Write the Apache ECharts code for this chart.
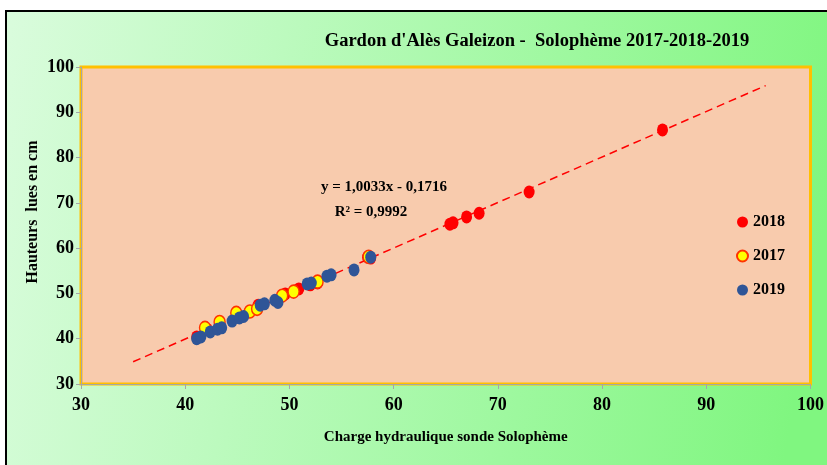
<!DOCTYPE html>
<html>
<head>
<meta charset="utf-8">
<script src="https://cdn.jsdelivr.net/npm/echarts@6/dist/echarts.min.js"></script>
<style>html,body{margin:0;padding:0;background:#fff;}#c{width:827px;height:465px;}</style>
</head>
<body>
<div id="c"></div>
<script>
var titleText = "Gardon d'Alès Galeizon -  Solophème 2017-2018-2019";
var xAxisName = "Charge hydraulique sonde Solophème";
var yAxisName = "Hauteurs  lues en cm";
var equationLines = ["y = 1,0033x - 0,1716", "R² = 0,9992"];
var seriesNames = ["2018", "2017", "2019"];

var x2018 = [41.1, 42.1, 47.0, 49.6, 50.9, 52.0, 52.7, 57.5, 57.8, 65.4, 65.7, 67.0, 68.2, 73.0, 85.8];
var y2018 = [40.4, 42.1, 47.4, 49.9, 51.0, 51.9, 52.3, 58.0, 57.8, 65.3, 65.6, 66.9, 67.7, 72.4, 86.1];

var x2017 = [41.9, 43.3, 44.9, 46.2, 46.9, 49.3, 50.4, 52.7, 57.6];
var y2017 = [42.4, 43.7, 45.7, 46.0, 46.6, 49.5, 50.4, 52.6, 58.1];

var x2019 = [41.1, 41.5, 42.4, 43.1, 43.5, 44.5, 45.2, 45.6, 47.2, 47.6, 48.6, 48.9, 51.7, 52.1, 53.6, 54.0, 56.2, 57.8];
var y2019 = [40.0, 40.4, 41.5, 42.1, 42.4, 43.9, 44.6, 44.9, 47.4, 47.7, 48.5, 48.0, 52.1, 52.3, 53.8, 54.1, 55.2, 58.0];

var trendX = [35, 95.7];
var trendY = [34.9, 95.9];

var xTicks = [30, 100, 10];
var yTicks = [30, 100, 10];

function pairs(xs, ys){ return xs.map(function(v,i){ return [v, ys[i]]; }); }

var font = "'Liberation Serif', 'Times New Roman', serif";
var chart = echarts.init(document.getElementById('c'), null, {renderer:'canvas'});
var colors = ['#FF0000', '#FFFF00', '#2F5597'];

chart.setOption({
  animation: false,
  backgroundColor: '#ffffff',
  graphic: [
    {type:'rect', z:-10, shape:{x:6, y:11, width:830, height:470},
     style:{fill:new echarts.graphic.LinearGradient(0,0,1,0.3,[{offset:0,color:'#dafcdd'},{offset:1,color:'#80f680'}]), stroke:'#000', lineWidth:2}},
    {type:'text', z:10, style:{text:titleText, x:537, y:41, align:'center', verticalAlign:'middle', font:"bold 18.5px " + font, fill:'#000'}},
    {type:'text', z:10, style:{text:equationLines[0], x:384, y:187, align:'center', verticalAlign:'middle', font:"bold 15px " + font, fill:'#000'}},
    {type:'text', z:10, style:{text:equationLines[1], x:371, y:212, align:'center', verticalAlign:'middle', font:"bold 15px " + font, fill:'#000'}},
    {type:'text', z:10, x:33, y:212, rotation:Math.PI/2, style:{text:yAxisName, x:0, y:0, align:'center', verticalAlign:'middle', font:"bold 16px " + font, fill:'#000'}}
  ],
  grid: {left:81, right:14, top:67, bottom:81, show:true, backgroundColor:'#F8CBAD', borderColor:'#FFC000', borderWidth:3},
  legend: {
    orient:'vertical', left:731, top:209, itemGap:18, itemWidth:11, itemHeight:13, icon:'circle',
    data: seriesNames,
    textStyle:{fontFamily:font, fontWeight:'bold', fontSize:16, color:'#000'}
  },
  xAxis: {
    type:'value', min:xTicks[0], max:xTicks[1], interval:xTicks[2],
    name:xAxisName, nameLocation:'middle', nameGap:46,
    nameTextStyle:{fontFamily:font, fontWeight:'bold', fontSize:15, color:'#000'},
    axisLine:{show:true, onZero:false, lineStyle:{color:'#A6A6A6', width:1}},
    axisTick:{show:true, length:5, lineStyle:{color:'#A6A6A6'}},
    axisLabel:{margin:12, fontFamily:font, fontWeight:'bold', fontSize:18, color:'#000'},
    splitLine:{show:false}
  },
  yAxis: {
    type:'value', min:yTicks[0], max:yTicks[1], interval:yTicks[2],
    axisLine:{show:true, onZero:false, lineStyle:{color:'#A6A6A6', width:1}},
    axisTick:{show:true, length:5, lineStyle:{color:'#A6A6A6'}},
    axisLabel:{margin:7, fontFamily:font, fontWeight:'bold', fontSize:18, color:'#000'},
    splitLine:{show:false}
  },
  series: [
    {type:'line', name:'trend', data:pairs(trendX, trendY), showSymbol:false, symbol:'none', z:1,
     lineStyle:{color:'#FF0000', width:1.5, type:[8,5]}},
    {type:'scatter', name:seriesNames[0], data:pairs(x2018,y2018), symbol:'circle', symbolSize:[11,13], z:2,
     itemStyle:{color:colors[0], opacity:1}},
    {type:'scatter', name:seriesNames[1], data:pairs(x2017,y2017), symbol:'circle', symbolSize:[11,13], z:3,
     itemStyle:{color:colors[1], borderColor:'#FF3300', borderWidth:1.5, opacity:1}},
    {type:'scatter', name:seriesNames[2], data:pairs(x2019,y2019), symbol:'circle', symbolSize:[11,13], z:4,
     itemStyle:{color:colors[2], opacity:1}}
  ]
});
</script>
</body>
</html>
